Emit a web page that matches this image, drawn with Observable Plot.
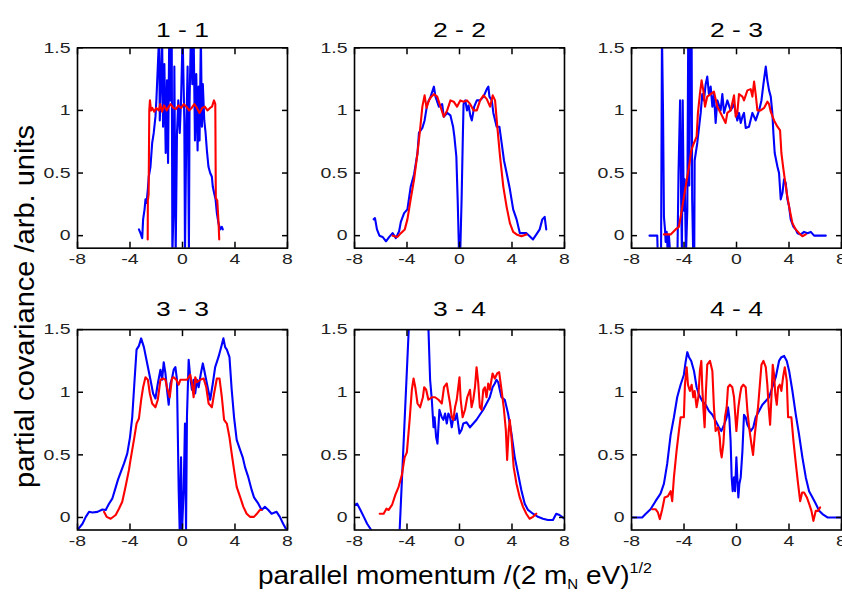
<!DOCTYPE html>
<html><head><meta charset="utf-8">
<script src="https://cdn.jsdelivr.net/npm/d3@7"></script>
<script src="https://cdn.jsdelivr.net/npm/@observablehq/plot@0.6"></script>
<style>
html,body{margin:0;padding:0;background:#fff;}
#chart{width:842px;height:594px;}
</style></head><body><div id="chart"></div>
<script>
// ---- data -------------------------------------------------------------
const panels = ["1 - 1", "2 - 2", "2 - 3", "3 - 3", "3 - 4", "4 - 4"];
const panelCol = [0, 1, 2, 0, 1, 2];
const panelRow = [0, 0, 0, 1, 1, 1];
const xTicks = [-8, -4, 0, 4, 8];
const yTicks = [0, 0.5, 1, 1.5];
const yLabel = "partial covariance /arb. units";
const xLabelParts = ["parallel momentum /(2 m", "N", " eV)", "1/2"];

const blue11 = [[-3.32,0.05],[-3.2,0.02],[-3.07,-0.02],[-3.0,0.13],[-2.89,0.21],[-2.82,0.29],[-2.74,0.26],[-2.64,0.37],[-2.57,0.47],[-2.44,0.55],[-2.31,0.74],[-2.19,0.82],[-2.06,0.95],[-1.99,1.08],[-1.88,1.35],[-1.78,1.6],[-1.73,0.92],[-1.63,1.29],[-1.55,1.55],[-1.48,0.87],[-1.38,1.37],[-1.28,0.66],[-1.18,1.24],[-1.1,0.58],[-1.02,1.48],[-0.97,1.6],[-0.92,1.08],[-0.82,1.6],[-0.77,-0.15],[-0.67,0.29],[-0.62,1.35],[-0.52,-0.15],[-0.42,0.82],[-0.32,1.08],[-0.21,0.82],[-0.11,1.08],[0.01,1.6],[0.14,0.92],[0.19,-0.15],[0.29,0.82],[0.39,1.35],[0.49,-0.15],[0.54,1.08],[0.64,1.6],[0.75,1.21],[0.85,1.6],[0.95,0.76],[1.05,1.29],[1.15,0.68],[1.23,1.19],[1.3,0.76],[1.4,1.6],[1.48,0.87],[1.55,1.21],[1.66,0.92],[1.76,0.82],[1.86,0.68],[1.98,0.55],[2.11,0.5],[2.24,0.47],[2.31,0.39],[2.41,0.34],[2.52,0.29],[2.62,0.18],[2.74,0.1],[2.87,0.05],[3.0,0.07],[3.07,0.05]];
const red11 = [[-2.65,-0.03],[-2.64,0.28],[-2.58,0.33],[-2.53,1.0],[-2.48,1.08],[-2.4,1.0],[-2.3,1.02],[-2.15,0.99],[-2.0,1.02],[-1.8,1.0],[-1.7,1.05],[-1.55,0.99],[-1.4,1.04],[-1.2,1.0],[-1.05,1.03],[-0.9,1.05],[-0.7,1.02],[-0.5,1.01],[-0.3,1.04],[-0.1,1.02],[0.1,1.05],[0.3,1.03],[0.5,1.0],[0.7,1.02],[0.9,1.05],[1.1,1.02],[1.3,0.98],[1.5,1.02],[1.7,1.03],[1.9,1.0],[2.1,1.02],[2.25,1.03],[2.4,1.08],[2.5,1.05],[2.54,0.3],[2.65,0.28],[2.75,0.1],[2.8,-0.03]];

const blue22 = [[-6.54,0.13],[-6.44,0.14],[-6.29,0.05],[-6.1,0],[-5.86,-0.01],[-5.6,-0.045],[-5.35,-0.01],[-5.1,0.02],[-4.85,-0.02],[-4.6,0.035],[-4.47,0.11],[-4.22,0.18],[-3.97,0.21],[-3.72,0.39],[-3.46,0.49],[-3.2,0.66],[-3.09,0.82],[-2.83,0.86],[-2.66,0.92],[-2.46,1.05],[-2.2,1.11],[-1.95,1.19],[-1.83,1.11],[-1.57,1.03],[-1.32,1.05],[-1.2,0.95],[-0.94,0.98],[-0.69,0.96],[-0.49,0.87],[-0.39,0.79],[-0.24,0.63],[-0.14,0.29],[-0.04,-0.12],[0.06,-0.12],[0.16,0.29],[0.26,0.82],[0.31,1.05],[0.44,1.08],[0.57,1.0],[0.69,1.04],[0.82,0.96],[0.94,0.92],[1.12,1.03],[1.32,1.08],[1.57,1.08],[1.83,1.11],[2.08,1.17],[2.2,1.19],[2.28,1.11],[2.46,1.08],[2.58,0.98],[2.83,0.87],[3.04,0.87],[3.21,0.74],[3.39,0.6],[3.59,0.5],[3.84,0.37],[4.09,0.21],[4.35,0.13],[4.6,0.02],[4.85,0.02],[5.1,0.02],[5.35,-0.005],[5.6,-0.03],[5.86,0.01],[6.11,0.05],[6.31,0.13],[6.49,0.15],[6.61,0.05]];
const red22 = [[-5.1,0],[-4.72,-0.01],[-4.47,0.02],[-4.17,0.05],[-3.97,0.13],[-3.72,0.29],[-3.46,0.45],[-3.2,0.66],[-3.01,0.84],[-2.83,1.03],[-2.66,1.12],[-2.51,1.02],[-2.33,1.08],[-2.15,1.11],[-1.95,1.13],[-1.7,1.11],[-1.45,1.03],[-1.2,0.95],[-0.94,1.0],[-0.69,1.08],[-0.44,1.07],[-0.19,1.03],[0.06,1.08],[0.31,1.07],[0.57,1.08],[0.82,1.05],[1.07,1.0],[1.32,1.0],[1.57,1.08],[1.83,1.12],[2.08,1.09],[2.33,1.03],[2.53,1.12],[2.71,1.08],[2.88,0.87],[3.09,0.63],[3.34,0.39],[3.59,0.23],[3.84,0.1],[4.09,0.03],[4.35,0.01],[4.72,-0.005],[5.1,0.01]];

const blue23 = [[-6.63,0],[-6.04,0],[-6.0,-0.15],[-5.75,-0.15],[-5.68,1.6],[-5.6,1.0],[-5.53,0.15],[-5.45,0.05],[-5.4,-0.05],[-5.32,0.03],[-5.25,-0.12],[-5.15,0.0],[-5.05,-0.15],[-4.5,-0.15],[-4.42,0.5],[-4.3,1.08],[-4.22,0.3],[-4.16,-0.15],[-4.1,1.08],[-4.02,0.2],[-3.95,0.45],[-3.85,-0.15],[-3.75,0.2],[-3.68,1.6],[-3.6,0.4],[-3.52,1.6],[-3.42,1.6],[-3.38,0.3],[-3.3,-0.15],[-3.22,-0.15],[-3.19,0.6],[-2.99,0.74],[-2.73,0.98],[-2.61,1.13],[-2.48,1.08],[-2.35,1.21],[-2.23,1.27],[-2.1,1.13],[-1.97,1.19],[-1.84,1.03],[-1.72,1.13],[-1.59,0.9],[-1.46,1.08],[-1.21,1.0],[-1.08,1.13],[-0.95,0.98],[-0.7,1.08],[-0.45,1.0],[-0.19,1.05],[0.06,0.92],[0.19,0.98],[0.32,0.9],[0.45,0.95],[0.57,0.98],[0.7,0.86],[0.95,0.87],[1.21,0.98],[1.46,0.92],[1.72,1.0],[1.9,1.08],[2.05,1.21],[2.23,1.35],[2.35,1.24],[2.48,1.16],[2.61,1.11],[2.73,0.98],[2.81,0.82],[2.91,0.66],[3.12,0.55],[3.24,0.5],[3.37,0.29],[3.5,0.34],[3.62,0.45],[3.75,0.42],[3.88,0.29],[4.01,0.23],[4.13,0.13],[4.34,0.07],[4.51,0.05],[4.64,0.02],[4.9,0.01],[5.15,0.03],[5.41,0.02],[5.66,0.03],[5.91,0.0],[6.17,0.0],[6.8,0.0]];
const red23 = [[-5.53,0.01],[-5.02,0.01],[-4.64,0.05],[-4.39,0.07],[-4.13,0.23],[-3.88,0.39],[-3.62,0.55],[-3.45,0.68],[-3.24,0.74],[-3.04,0.79],[-2.94,0.98],[-2.79,1.13],[-2.66,1.24],[-2.53,1.16],[-2.4,1.03],[-2.23,1.11],[-1.97,1.13],[-1.72,1.15],[-1.46,1.03],[-1.21,0.98],[-0.83,0.9],[-0.7,0.98],[-0.45,1.0],[-0.19,1.12],[-0.06,0.95],[0.06,0.98],[0.19,1.13],[0.45,1.11],[0.57,1.08],[0.83,1.16],[1.08,1.17],[1.21,1.11],[1.34,1.23],[1.46,1.13],[1.59,1.0],[1.84,1.0],[2.1,1.02],[2.35,1.07],[2.48,1.05],[2.61,0.99],[2.86,0.92],[3.12,0.87],[3.32,0.84],[3.42,0.66],[3.55,0.55],[3.68,0.45],[3.83,0.34],[4.01,0.23],[4.26,0.1],[4.51,0.05],[4.77,0.02],[5.02,-0.005],[5.28,0.01]];

const blue33 = [[-8,-0.1],[-7.62,-0.05],[-7.37,0.005],[-7.12,0.045],[-6.86,0.04],[-6.48,0.045],[-6.1,0.064],[-5.85,0.06],[-5.6,0.11],[-5.35,0.15],[-5.09,0.24],[-4.92,0.3],[-4.71,0.36],[-4.46,0.43],[-4.21,0.51],[-4.0,0.64],[-3.83,0.8],[-3.65,1.1],[-3.5,1.34],[-3.32,1.37],[-3.15,1.43],[-2.94,1.36],[-2.69,1.23],[-2.44,1.1],[-2.24,0.99],[-2.06,0.95],[-1.88,1.07],[-1.68,1.18],[-1.55,1.1],[-1.43,1.24],[-1.3,1.15],[-1.18,1.02],[-1.05,0.9],[-0.92,1.07],[-0.8,1.11],[-0.67,1.18],[-0.54,1.2],[-0.42,1.1],[-0.29,0.22],[-0.21,-0.12],[-0.11,0.48],[-0.04,-0.12],[0.09,0.22],[0.19,0.75],[0.27,-0.12],[0.34,0.8],[0.47,1.26],[0.59,1.12],[0.72,1.02],[0.85,1.1],[0.97,0.99],[1.1,1.1],[1.23,1.04],[1.4,1.15],[1.55,1.23],[1.65,1.18],[1.86,1.07],[2.11,0.94],[2.31,1.07],[2.49,1.2],[2.74,1.28],[2.92,1.35],[3.12,1.43],[3.25,1.36],[3.38,1.34],[3.58,1.28],[3.75,1.02],[3.93,0.8],[4.13,0.62],[4.39,0.54],[4.59,0.48],[4.77,0.4],[5.02,0.32],[5.27,0.22],[5.45,0.16],[5.78,0.11],[6.03,0.06],[6.28,0.085],[6.54,0.06],[6.79,0.03],[7.17,0.045],[7.42,0.005],[7.67,-0.05],[7.93,-0.1]];
const red33 = [[-5.98,0.045],[-5.78,0.005],[-5.47,-0.01],[-5.09,0.02],[-4.84,0.07],[-4.59,0.125],[-4.34,0.245],[-4.08,0.38],[-3.96,0.46],[-3.7,0.62],[-3.5,0.75],[-3.32,0.79],[-3.15,0.94],[-3.0,1.04],[-2.82,1.12],[-2.64,1.1],[-2.49,0.99],[-2.31,0.91],[-2.06,0.88],[-1.88,0.94],[-1.68,1.1],[-1.48,1.11],[-1.3,1.1],[-1.18,1.04],[-0.97,0.96],[-0.8,1.11],[-0.67,1.12],[-0.47,1.1],[-0.29,1.06],[-0.16,1.1],[0.09,1.1],[0.34,1.1],[0.59,1.14],[0.72,1.07],[0.85,0.96],[0.97,1.12],[1.1,1.08],[1.35,1.1],[1.61,1.11],[1.81,1.04],[1.99,0.91],[2.24,0.88],[2.41,0.99],[2.62,1.11],[2.82,1.11],[3.0,0.96],[3.17,0.78],[3.38,0.75],[3.58,0.64],[3.75,0.51],[3.93,0.38],[4.13,0.245],[4.39,0.165],[4.64,0.085],[4.89,0.03],[5.14,0.005],[5.45,0.005],[5.65,0.027],[5.9,0.06],[6.03,0.06]];

const blue34 = [[-8,0.1],[-7.8,0.11],[-7.55,0.06],[-7.29,0.005],[-7.04,-0.05],[-6.79,-0.09],[-6.66,-0.11],[-6.5,-0.15],[-4.62,-0.15],[-4.56,-0.1],[-3.86,1.52],[-3.1,2.5],[-2.37,1.52],[-2.24,1.1],[-2.11,0.94],[-1.98,0.72],[-1.9,0.8],[-1.78,0.64],[-1.68,0.59],[-1.53,0.86],[-1.35,0.8],[-1.23,0.78],[-1.1,0.83],[-0.97,0.75],[-0.85,0.83],[-0.72,0.8],[-0.59,0.72],[-0.47,0.8],[-0.34,0.78],[-0.21,0.83],[0.0,0.67],[0.16,0.7],[0.29,0.75],[0.54,0.76],[0.8,0.72],[1.05,0.75],[1.3,0.78],[1.55,0.82],[1.81,0.86],[2.06,0.91],[2.31,0.96],[2.52,1.04],[2.69,1.07],[2.82,1.1],[2.95,1.08],[3.07,1.02],[3.2,0.96],[3.45,0.94],[3.7,0.83],[3.96,0.67],[4.21,0.48],[4.46,0.35],[4.71,0.22],[4.97,0.11],[5.22,0.06],[5.6,0.03],[5.98,0.005],[6.36,-0.01],[6.74,-0.02],[7.12,-0.02],[7.37,0.03],[7.62,0.02],[8,-0.01]];
const red34 = [[-6.08,0.03],[-5.78,0.03],[-5.57,0.07],[-5.4,0.06],[-5.14,0.1],[-4.89,0.18],[-4.64,0.245],[-4.39,0.34],[-4.18,0.48],[-4.01,0.52],[-3.8,0.78],[-3.63,1.02],[-3.5,1.11],[-3.37,1.04],[-3.2,0.91],[-3.0,0.88],[-2.79,0.96],[-2.69,1.04],[-2.54,1.02],[-2.37,0.94],[-2.11,0.96],[-1.86,0.96],[-1.6,0.94],[-1.35,0.91],[-1.18,1.04],[-0.97,1.07],[-0.85,0.99],[-0.72,0.91],[-0.59,0.8],[-0.47,0.78],[-0.34,0.88],[-0.21,0.94],[0.0,1.12],[0.09,0.94],[0.24,0.8],[0.42,0.86],[0.59,0.96],[0.8,1.02],[0.92,0.88],[1.05,0.94],[1.18,1.04],[1.3,1.2],[1.43,1.07],[1.55,0.88],[1.68,0.86],[1.81,1.02],[1.93,1.04],[2.06,0.96],[2.19,1.07],[2.31,1.02],[2.52,1.15],[2.69,1.11],[2.87,1.15],[3.02,1.16],[3.2,1.02],[3.37,0.88],[3.53,0.7],[3.63,0.46],[3.75,0.7],[3.83,0.78],[3.96,0.64],[4.13,0.4],[4.34,0.27],[4.59,0.16],[4.84,0.085],[5.09,0.03],[5.34,-0.01],[5.6,0.005],[5.85,0.03]];

const blue44 = [[-8,0],[-7.57,0],[-7.19,0],[-6.93,0.027],[-6.55,0.066],[-6.17,0.13],[-5.79,0.19],[-5.53,0.27],[-5.28,0.43],[-5.02,0.66],[-4.77,0.8],[-4.52,0.96],[-4.26,1.06],[-4.01,1.14],[-3.88,1.24],[-3.75,1.32],[-3.62,1.28],[-3.45,1.25],[-3.24,1.17],[-3.04,1.04],[-2.86,0.98],[-2.61,0.93],[-2.35,0.9],[-2.1,0.85],[-1.84,0.82],[-1.59,0.77],[-1.34,0.72],[-1.16,0.69],[-0.95,0.74],[-0.75,0.8],[-0.65,0.88],[-0.55,0.8],[-0.45,0.61],[-0.37,0.32],[-0.29,0.21],[-0.19,0.32],[-0.11,0.21],[-0.01,0.48],[0.06,0.32],[0.14,0.16],[0.22,0.27],[0.32,0.32],[0.45,0.53],[0.57,0.82],[0.7,0.8],[0.83,0.74],[1.08,0.69],[1.28,0.72],[1.46,0.8],[1.72,0.85],[1.97,0.9],[2.23,0.93],[2.48,0.96],[2.73,1.04],[2.99,1.12],[3.24,1.25],[3.42,1.28],[3.63,1.29],[3.83,1.25],[4.01,1.17],[4.26,1.01],[4.52,0.82],[4.77,0.66],[5.02,0.48],[5.28,0.32],[5.53,0.21],[5.79,0.16],[6.04,0.11],[6.3,0.053],[6.55,0.027],[6.93,0],[7.44,0],[8,0]];
const red44 = [[-6.42,0.066],[-6.17,0.066],[-5.99,0.04],[-5.84,-0.013],[-5.66,0.066],[-5.48,0.16],[-5.23,0.17],[-5.02,0.21],[-4.9,0.13],[-4.77,0.32],[-4.57,0.53],[-4.39,0.69],[-4.26,0.8],[-4.01,0.8],[-3.93,1.06],[-3.8,1.2],[-3.7,1.06],[-3.55,1.01],[-3.42,1.06],[-3.29,0.96],[-3.19,1.01],[-3.04,0.88],[-2.91,0.96],[-2.79,1.17],[-2.68,1.25],[-2.61,1.04],[-2.53,0.88],[-2.43,0.72],[-2.33,1.01],[-2.23,1.22],[-2.02,1.25],[-1.84,1.17],[-1.72,0.88],[-1.59,0.69],[-1.41,0.72],[-1.28,0.64],[-1.21,0.53],[-1.13,0.48],[-1.0,0.59],[-0.88,0.8],[-0.75,0.88],[-0.65,1.04],[-0.5,1.06],[-0.32,1.04],[-0.19,0.96],[-0.01,0.69],[0.14,0.88],[0.27,0.98],[0.37,1.04],[0.52,1.06],[0.7,1.04],[0.83,0.85],[1.0,0.69],[1.13,0.59],[1.26,0.5],[1.39,0.66],[1.54,0.8],[1.64,0.88],[1.74,1.01],[1.9,1.22],[2.05,1.25],[2.23,1.2],[2.35,1.06],[2.45,0.88],[2.56,0.74],[2.66,0.96],[2.76,1.22],[2.86,1.14],[2.96,0.98],[3.07,0.9],[3.17,1.04],[3.29,1.06],[3.42,1.01],[3.55,1.12],[3.68,1.2],[3.83,1.09],[3.93,0.8],[4.18,0.8],[4.34,0.61],[4.52,0.43],[4.69,0.27],[4.85,0.13],[5.0,0.2],[5.15,0.2],[5.36,0.16],[5.53,0.11],[5.71,0.053],[5.86,-0.027],[6.04,0.053],[6.22,0.053],[6.37,0.08]];

const blueSeries = [blue11, blue22, blue23, blue33, blue34, blue44];
const redSeries  = [red11, red22, red23, red33, red34, red44];

// ---- table for the library ---------------------------------------------
function table(seriesList) {
  const out = [];
  seriesList.forEach((s, i) => {
    for (const [x, y] of s) out.push({panel: panels[i], col: panelCol[i], row: panelRow[i], x, y});
  });
  return out;
}
const blueRows = table(blueSeries);
const redRows = table(redSeries);
const titleRows = panels.map((p, i) => ({panel: p, col: panelCol[i], row: panelRow[i]}));

const fmt = d => String(d);
const tickOpts = {tickSize: -6, fill: "none", stroke: "#000", strokeWidth: 1.5, facetAnchor: null, label: null};

const svg = Plot.plot({
  width: 842,
  height: 594,
  marginLeft: 77,
  marginRight: 1,
  marginTop: 47.3,
  marginBottom: 64.5,
  style: {fontFamily: "'Liberation Sans', Arial, sans-serif", background: "#fff", color: "#000", overflow: "visible"},
  x: {domain: [-8, 8], axis: null},
  y: {domain: [-0.1, 1.5], axis: null},
  fx: {domain: [0, 1, 2], paddingInner: 0.242, paddingOuter: 0, round: false, axis: null},
  fy: {domain: [0, 1], paddingInner: 0.289, paddingOuter: 0, round: false, axis: null},
  marks: [
    Plot.line(blueRows, {x: "x", y: "y", fx: "col", fy: "row", z: "panel", stroke: "#0000ff", strokeWidth: 2.1, clip: true}),
    Plot.line(redRows, {x: "x", y: "y", fx: "col", fy: "row", z: "panel", stroke: "#ff0000", strokeWidth: 2.1, clip: true}),
    Plot.frame({stroke: "#000", strokeWidth: 1.6}),
    Plot.axisX(xTicks, {anchor: "bottom", ...tickOpts}),
    Plot.axisX(xTicks, {anchor: "top", ...tickOpts}),
    Plot.axisY(yTicks, {anchor: "left", ...tickOpts}),
    Plot.axisY(yTicks, {anchor: "right", ...tickOpts}),
    Plot.axisX(xTicks, {anchor: "bottom", tickSize: 0, tickPadding: 5, tickFormat: fmt, fontSize: 15, fill: "#222", facetAnchor: null, label: null}),
    Plot.axisY(yTicks, {anchor: "left", tickSize: 0, tickPadding: 7, tickFormat: fmt, fontSize: 15, fill: "#222", facetAnchor: null, label: null}),
    Plot.text(titleRows.filter(d => d.row === 0), {fx: "col", fy: "row", text: "panel", frameAnchor: "top", dy: -24.8, fontSize: 20}),
    Plot.text(titleRows.filter(d => d.row === 1), {fx: "col", fy: "row", text: "panel", frameAnchor: "top", dy: -27.8, fontSize: 20})
  ]
});
document.getElementById("chart").append(svg);

const s = d3.select(svg);
// stretched look of the reference lettering
s.selectAll("text").filter(function() { return panels.includes(this.textContent); })
  .attr("textLength", 53).attr("lengthAdjust", "spacingAndGlyphs");
s.selectAll('g[aria-label*="tick label"] text').each(function() {
  const L = this.getComputedTextLength();
  if (L > 0) { this.setAttribute("textLength", (L * 1.3).toFixed(1)); this.setAttribute("lengthAdjust", "spacingAndGlyphs"); }
});

// axis titles
s.append("text")
  .attr("transform", "translate(33.5,306.5) rotate(-90)")
  .attr("text-anchor", "middle")
  .attr("font-size", 27)
  .attr("fill", "#000")
  .attr("textLength", 363).attr("lengthAdjust", "spacingAndGlyphs")
  .text(yLabel);

const xl = s.append("text")
  .attr("x", 258).attr("y", 584)
  .attr("text-anchor", "start")
  .attr("font-size", 26)
  .attr("fill", "#000")
  .attr("textLength", 394).attr("lengthAdjust", "spacingAndGlyphs");
xl.append("tspan").text(xLabelParts[0]);
xl.append("tspan").attr("font-size", 14).attr("dy", 5).text(xLabelParts[1]);
xl.append("tspan").attr("font-size", 26).attr("dy", -5).text(xLabelParts[2]);
xl.append("tspan").attr("font-size", 15).attr("dy", -11).text(xLabelParts[3]);
</script>
</body></html>
